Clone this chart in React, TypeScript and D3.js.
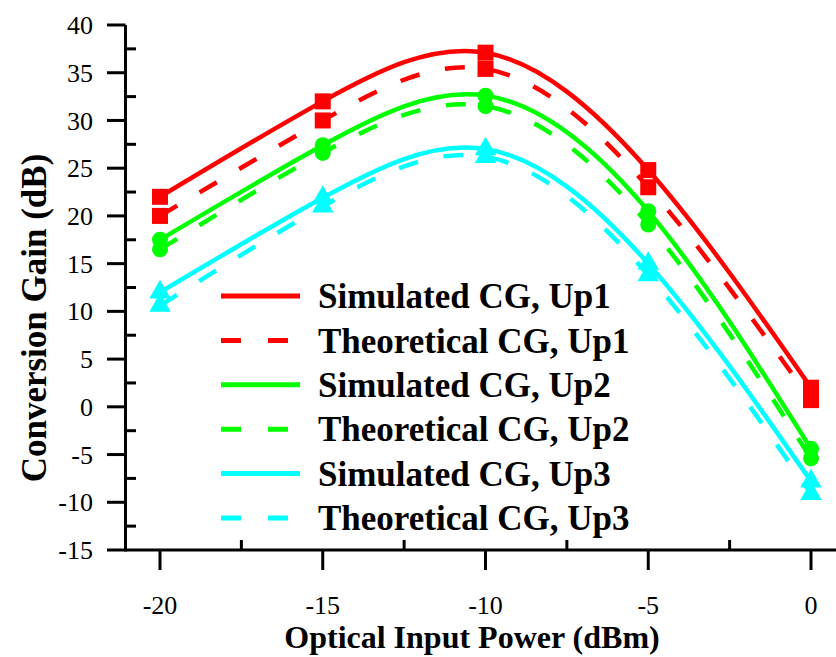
import React from "react";
import * as d3 from "d3";

const xValues = [-20, -15, -10, -5, 0];
const simUp1 = [22, 32, 37.1, 24.8, 2.0];
const theoUp1 = [20, 30, 35.4, 23.0, 0.7];
const simUp2 = [17.5, 27.4, 32.6, 20.5, -4.4];
const theoUp2 = [16.5, 26.6, 31.5, 19.1, -5.4];
const simUp3 = [12, 21.9, 27.0, 15.0, -7.8];
const theoUp3 = [10.6, 21.0, 26.2, 13.8, -9.1];

const xTicks = [-20, -15, -10, -5, 0];
const xMinorTicks = [-17.5, -12.5, -7.5, -2.5];
const yTicks = [-15, -10, -5, 0, 5, 10, 15, 20, 25, 30, 35, 40];
const yMinorTicks = [-12.5, -7.5, -2.5, 2.5, 7.5, 12.5, 17.5, 22.5, 27.5, 32.5, 37.5];

const series = [
  { name: "Simulated CG, Up1", values: simUp1, color: "#ff0000", dashed: false, marker: "square" },
  { name: "Theoretical CG, Up1", values: theoUp1, color: "#ff0000", dashed: true, marker: "square" },
  { name: "Simulated CG, Up2", values: simUp2, color: "#00ff00", dashed: false, marker: "circle" },
  { name: "Theoretical CG, Up2", values: theoUp2, color: "#00ff00", dashed: true, marker: "circle" },
  { name: "Simulated CG, Up3", values: simUp3, color: "#00ffff", dashed: false, marker: "triangle" },
  { name: "Theoretical CG, Up3", values: theoUp3, color: "#00ffff", dashed: true, marker: "triangle" },
];

const FONT = "'Liberation Serif', 'Times New Roman', serif";

export default function App() {
  const W = 836, H = 657;
  const x = d3.scaleLinear().domain([-20, 0]).range([160, 811]);
  const y = d3.scaleLinear().domain([-15, 40]).range([550, 25]);
  const axisX = 125.5;
  const axisY = 550;
  const line = d3.line<number>()
    .x((_, i) => x(xValues[i]))
    .y((d) => y(d))
    .curve(d3.curveNatural);
  const sym = (m: string) => {
    if (m === "square") return d3.symbol(d3.symbolSquare, 256)();
    if (m === "circle") return d3.symbol(d3.symbolCircle, 201)();
    return d3.symbol(d3.symbolTriangle, 200)();
  };
  const legendX0 = 221, legendX1 = 300, legendTextX = 318, legendY0 = 296, legendStep = 44.4;
  return (
    <svg width={W} height={H} style={{ position: "absolute", left: 0, top: 0 }}>
      <rect width={W} height={H} fill="#fff" />
      {series.map((s, si) => (
        <g key={si}>
          <path d={line(s.values) || ""} fill="none" stroke={s.color} strokeWidth={4.5}
            strokeDasharray={s.dashed ? "20,26" : undefined} />
          {s.values.map((v, i) => (
            <path key={i} d={sym(s.marker) || ""} fill={s.color}
              transform={`translate(${x(xValues[i])},${y(v)})`} />
          ))}
        </g>
      ))}
      {/* axes */}
      <line x1={axisX} x2={axisX} y1={25} y2={axisY + 1.5} stroke="#000" strokeWidth={3} />
      <line x1={axisX} x2={W} y1={axisY} y2={axisY} stroke="#000" strokeWidth={3} />
      {yTicks.map((t) => (
        <g key={t}>
          <line x1={107} x2={axisX} y1={y(t)} y2={y(t)} stroke="#000" strokeWidth={3} />
          <text x={93} y={y(t)} dy="0.35em" textAnchor="end" fontFamily={FONT} fontSize={26}>{t}</text>
        </g>
      ))}
      {yMinorTicks.map((t) => (
        <line key={t} x1={axisX} x2={136} y1={y(t)} y2={y(t)} stroke="#000" strokeWidth={3} />
      ))}
      {xTicks.map((t) => (
        <g key={t}>
          <line x1={x(t)} x2={x(t)} y1={axisY} y2={570} stroke="#000" strokeWidth={3} />
          <text x={x(t)} y={605} dy="0.35em" textAnchor="middle" fontFamily={FONT} fontSize={26}>{t}</text>
        </g>
      ))}
      {xMinorTicks.map((t) => (
        <line key={t} x1={x(t)} x2={x(t)} y1={axisY} y2={540} stroke="#000" strokeWidth={3} />
      ))}
      <text x={472} y={648} textAnchor="middle" fontFamily={FONT} fontSize={32} fontWeight="bold">Optical Input Power (dBm)</text>
      <text transform={`translate(46,318) rotate(-90)`} textAnchor="middle" fontFamily={FONT} fontSize={35} fontWeight="bold">Conversion Gain (dB)</text>
      {series.map((s, i) => {
        const ly = legendY0 + i * legendStep;
        return (
          <g key={i}>
            <line x1={legendX0} x2={legendX1} y1={ly} y2={ly} stroke={s.color} strokeWidth={5}
              strokeDasharray={s.dashed ? "20,27" : undefined} />
            <text x={legendTextX} y={ly} dy="0.35em" fontFamily={FONT} fontSize={35} fontWeight="bold">{s.name}</text>
          </g>
        );
      })}
    </svg>
  );
}
